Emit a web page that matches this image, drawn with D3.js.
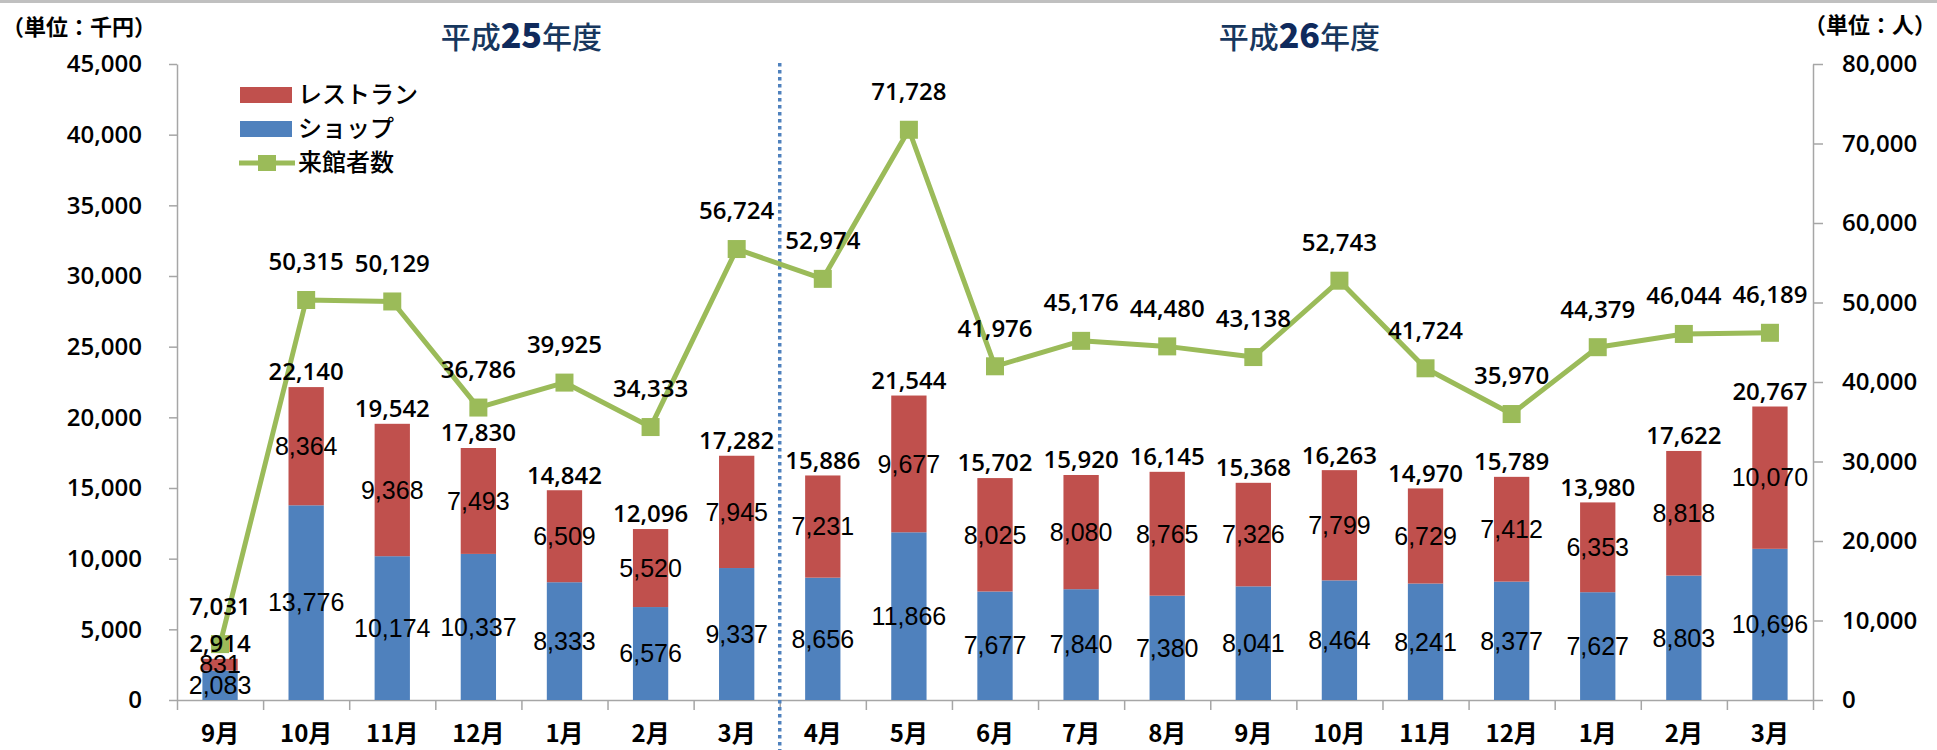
<!DOCTYPE html>
<html>
<head>
<meta charset="utf-8">
<script src="https://cdn.jsdelivr.net/npm/d3@7"></script>
<style>
  body { margin: 0; background: #fff; }
  svg text { fill: #000; }
</style>
</head>
<body>
<div id="chart"></div>
<script>
// data
var months = ["9月", "10月", "11月", "12月", "1月", "2月", "3月",
              "4月", "5月", "6月", "7月", "8月", "9月", "10月", "11月", "12月", "1月", "2月", "3月"];
var shop = [2083, 13776, 10174, 10337, 8333, 6576, 9337,
            8656, 11866, 7677, 7840, 7380, 8041, 8464, 8241, 8377, 7627, 8803, 10696];
var restaurant = [831, 8364, 9368, 7493, 6509, 5520, 7945,
                  7231, 9677, 8025, 8080, 8765, 7326, 7799, 6729, 7412, 6353, 8818, 10070];
var totals = [2914, 22140, 19542, 17830, 14842, 12096, 17282,
              15886, 21544, 15702, 15920, 16145, 15368, 16263, 14970, 15789, 13980, 17622, 20767];
var visitors = [7031, 50315, 50129, 36786, 39925, 34333, 56724,
                52974, 71728, 41976, 45176, 44480, 43138, 52743, 41724, 35970, 44379, 46044, 46189];
var leftTicks = [0, 5000, 10000, 15000, 20000, 25000, 30000, 35000, 40000, 45000];
var rightTicks = [0, 10000, 20000, 30000, 40000, 50000, 60000, 70000, 80000];
var fiscalYears = [{ pre: "平成", num: "25", post: "年度" }, { pre: "平成", num: "26", post: "年度" }];
var yearSplit = 7; // first 7 months belong to H25

var W = 1937, H = 750;
// note: "top" is taken by window.top, so plot edges get their own names
var plotLeft = 177, plotRight = 1813, plotTop = 64, plotBottom = 700;
var numFont = "'Open Sans', 'Liberation Sans', sans-serif";
var narrowFont = "'Liberation Sans Narrow', 'Liberation Sans', sans-serif";
var jpFont = "'Noto Sans CJK JP', sans-serif";

var svg = d3.select("#chart").append("svg")
  .attr("width", W).attr("height", H);

// grey strip at the top edge
svg.append("rect").attr("x", 0).attr("y", 0).attr("width", W).attr("height", 3).attr("fill", "#c0c0c0");

// scales
var idx = d3.range(months.length);
var x = d3.scaleBand().domain(idx).range([plotLeft, plotRight]).padding(0);
var xEdge = d3.scaleLinear().domain([0, months.length]).range([plotLeft, plotRight]);
var yL = d3.scaleLinear().domain([0, 45000]).range([plotBottom, plotTop]);
var yR = d3.scaleLinear().domain([0, 80000]).range([plotBottom, plotTop]);
var barW = x.bandwidth() * 0.41;

// axes
var axisColor = "#a6a6a6";
var gl = svg.append("g").attr("transform", "translate(" + plotLeft + ",0)")
  .call(d3.axisLeft(yL).tickValues(leftTicks).tickSize(8).tickSizeOuter(0).tickPadding(27).tickFormat(d3.format(",")));
var gr = svg.append("g").attr("transform", "translate(" + plotRight + ",0)")
  .call(d3.axisRight(yR).tickValues(rightTicks).tickSize(10).tickSizeOuter(0).tickPadding(19).tickFormat(d3.format(",")));
var gb = svg.append("g").attr("transform", "translate(0," + plotBottom + ")")
  .call(d3.axisBottom(xEdge).tickValues(d3.range(months.length + 1)).tickSize(10).tickSizeOuter(0).tickFormat(""));
var gm = svg.append("g").attr("transform", "translate(0," + plotBottom + ")")
  .call(d3.axisBottom(x).tickSize(0).tickPadding(24).tickFormat(function (i) { return months[i]; }));
gm.select(".domain").remove();

[gl, gr, gb].forEach(function (g) {
  g.selectAll("path, line").attr("stroke", axisColor).attr("stroke-width", 1.5);
});
[gl, gr].forEach(function (g) {
  g.selectAll("text").attr("font-family", numFont).attr("font-size", 24).attr("font-weight", 600).attr("fill", "#000");
});
gm.selectAll("text").attr("font-family", jpFont).attr("font-size", 24).attr("font-weight", 700)
  .attr("fill", "#000").attr("dy", "0.35em").attr("y", 34);

// stacked bars
var bars = svg.append("g");
bars.selectAll(".shop").data(idx).enter().append("rect")
  .attr("x", function (i) { return x(i) + (x.bandwidth() - barW) / 2; })
  .attr("width", barW)
  .attr("y", function (i) { return yL(shop[i]); })
  .attr("height", function (i) { return plotBottom - yL(shop[i]); })
  .attr("fill", "#4f81bd");
bars.selectAll(".rest").data(idx).enter().append("rect")
  .attr("x", function (i) { return x(i) + (x.bandwidth() - barW) / 2; })
  .attr("width", barW)
  .attr("y", function (i) { return yL(shop[i] + restaurant[i]); })
  .attr("height", function (i) { return yL(shop[i]) - yL(shop[i] + restaurant[i]); })
  .attr("fill", "#c0504d");

// divider between the two fiscal years
svg.append("line")
  .attr("x1", xEdge(yearSplit)).attr("x2", xEdge(yearSplit))
  .attr("y1", plotTop - 1).attr("y2", H)
  .attr("stroke", "#4f81bd").attr("stroke-width", 3.5).attr("stroke-dasharray", "3.5,3.5");

// visitors line
var cx = function (i) { return x(i) + x.bandwidth() / 2; };
var line = d3.line().x(function (d, i) { return cx(i); }).y(function (d) { return yR(d); });
svg.append("path").datum(visitors).attr("d", line)
  .attr("fill", "none").attr("stroke", "#9bbb59").attr("stroke-width", 5).attr("stroke-linejoin", "round");
svg.selectAll(".mk").data(visitors).enter().append("rect")
  .attr("x", function (d, i) { return cx(i) - 9; })
  .attr("y", function (d) { return yR(d) - 9; })
  .attr("width", 18).attr("height", 18).attr("fill", "#9bbb59");

// labels inside bars
var fmt = d3.format(",");
var inLabels = svg.append("g").attr("font-family", narrowFont).attr("font-size", 25)
  .attr("text-anchor", "middle");
inLabels.selectAll(".ls").data(idx).enter().append("text")
  .attr("x", cx)
  .attr("y", function (i) { return (yL(0) + yL(shop[i])) / 2; })
  .attr("dy", "0.35em")
  .text(function (i) { return fmt(shop[i]); });
inLabels.selectAll(".lr").data(idx).enter().append("text")
  .attr("x", cx)
  .attr("y", function (i) { return (yL(shop[i]) + yL(shop[i] + restaurant[i])) / 2; })
  .attr("dy", "0.35em")
  .text(function (i) { return fmt(restaurant[i]); });

// totals and visitors above
var topLabels = svg.append("g").attr("font-family", numFont).attr("font-size", 24).attr("font-weight", 600)
  .attr("text-anchor", "middle");
topLabels.selectAll(".lt").data(idx).enter().append("text")
  .attr("x", cx)
  .attr("y", function (i) { return yL(shop[i] + restaurant[i]) - 15; })
  .attr("dy", "0.35em")
  .text(function (i) { return fmt(totals[i]); });
topLabels.selectAll(".lv").data(idx).enter().append("text")
  .attr("x", cx)
  .attr("y", function (i) { return yR(visitors[i]) - 38; })
  .attr("dy", "0.35em")
  .text(function (i) { return fmt(visitors[i]); });

// unit labels
svg.append("text").attr("x", 2).attr("y", 27).attr("dy", "0.35em")
  .attr("font-family", jpFont).attr("font-size", 22).attr("font-weight", 700).text("（単位：千円）");
svg.append("text").attr("x", 1936).attr("y", 25).attr("dy", "0.35em").attr("text-anchor", "end")
  .attr("font-family", jpFont).attr("font-size", 22).attr("font-weight", 700).text("（単位：人）");

// fiscal year titles
var titleX = [(xEdge(0) + xEdge(yearSplit)) / 2 + 43, (xEdge(yearSplit) + xEdge(months.length)) / 2 + 3];
fiscalYears.forEach(function (fy, k) {
  var t = svg.append("text").attr("x", titleX[k]).attr("y", 37).attr("dy", "0.35em")
    .attr("text-anchor", "middle").attr("font-family", jpFont).attr("font-size", 30)
    .attr("font-weight", 500).style("fill", "#17375e");
  t.append("tspan").text(fy.pre);
  t.append("tspan").attr("font-weight", 900).attr("font-size", 34).style("fill", "#0f2a5c").text(fy.num);
  t.append("tspan").text(fy.post);
});

// legend
var legend = svg.append("g").attr("font-family", jpFont).attr("font-size", 24).attr("font-weight", 500);
var legendItems = [
  { name: "レストラン", color: "#c0504d", kind: "bar" },
  { name: "ショップ", color: "#4f81bd", kind: "bar" },
  { name: "来館者数", color: "#9bbb59", kind: "line" }
];
legendItems.forEach(function (d, k) {
  var ly = 95 + k * 34;
  if (d.kind === "bar") {
    legend.append("rect").attr("x", 240).attr("y", ly - 8).attr("width", 52).attr("height", 16).attr("fill", d.color);
  } else {
    legend.append("line").attr("x1", 239).attr("x2", 295).attr("y1", ly).attr("y2", ly)
      .attr("stroke", d.color).attr("stroke-width", 5);
    legend.append("rect").attr("x", 258).attr("y", ly - 8).attr("width", 18).attr("height", 16).attr("fill", d.color);
  }
  legend.append("text").attr("x", 298).attr("y", ly).attr("dy", "0.35em").text(d.name);
});
</script>
</body>
</html>
